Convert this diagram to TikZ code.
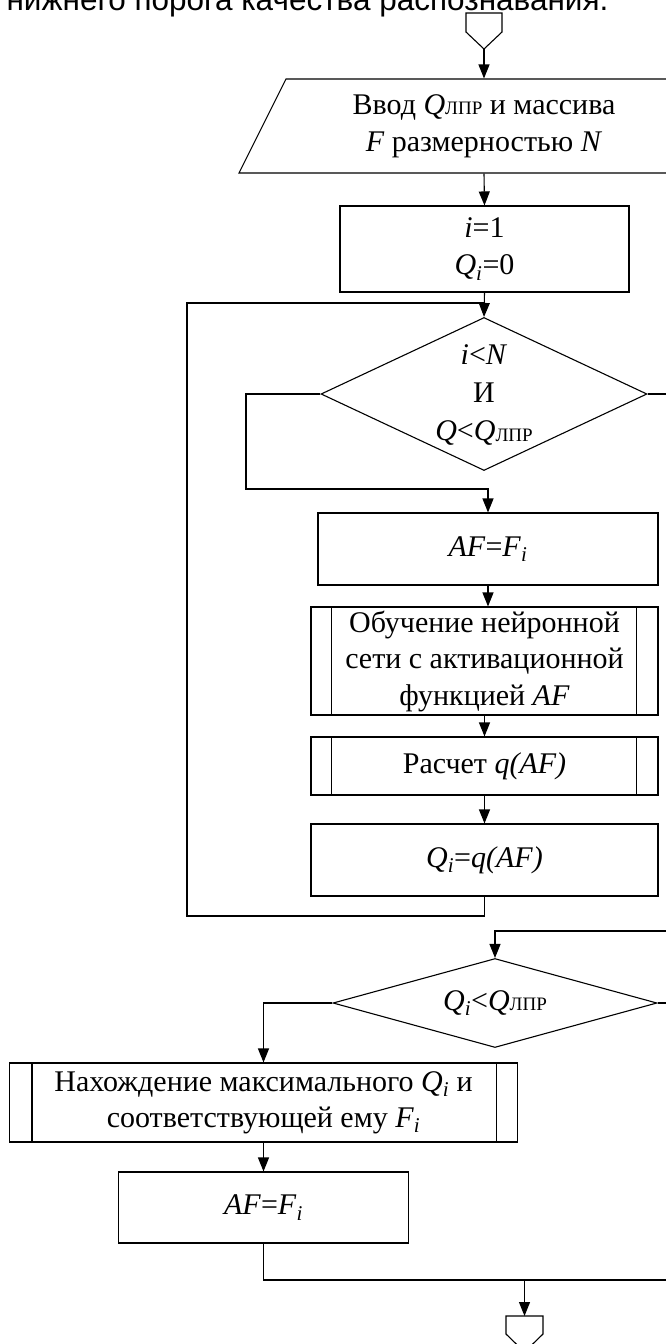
\documentclass[tikz,border=0pt]{standalone}
\usepackage{fontspec}
\setmainfont{Liberation Serif}
\newfontfamily\headfont{Liberation Sans}
\usetikzlibrary{shapes.geometric,arrows.meta}
\newcommand{\Qlpr}{\textit{Q}\raisebox{-0.5pt}{\fontsize{19}{19}\selectfont ЛПР}}
\newcommand{\sbi}{\textsubscript{\textit{i}}}
\begin{document}
\begin{tikzpicture}[x=1pt,y=-1pt,line width=1.1pt,
  box/.style={draw, rectangle, inner sep=0pt, align=center, font=\fontsize{30}{37}\selectfont},
  txt/.style={inner sep=0pt, align=center, font=\fontsize{30}{37}\selectfont},
  dia/.style={draw, diamond, inner sep=0pt},
  arr/.style={-{Triangle[length=14pt,width=11pt]}}]
\useasboundingbox (0,0) rectangle (666,1344);
\fill[white] (0,0) rectangle (666,1344);
\clip (0,0) rectangle (666,1344);

% heading text (cut off at top, as in the reference)
\node[anchor=base west, inner sep=0pt, font=\headfont\fontsize{31.5}{36}\selectfont] (head) at (6,10) {нижнего порога качества распознавания.};

% start connector
\draw (466,13) -- (502,13) -- (502,32) -- (484,49) -- (466,32) -- cycle;
\coordinate (s) at (484,49);

% input parallelogram
\draw (286,79) -- (729,79) -- (682,173) -- (239,173) -- cycle;
\node[txt, minimum width=400, minimum height=94] (inp) at (484,126) {Ввод \Qlpr{} и массива\\\textit{F} размерностью \textit{N}};

% init box
\node[box, minimum width=289, minimum height=86] (init) at (484.5,249) {\textit{i}=1\\\textit{Q}\sbi=0};

% decision 1
\node[dia, minimum width=326, minimum height=153] (d1) at (484,394) {};
\node[txt, font=\fontsize{30}{38}\selectfont] (d1t) at (484,395) {\textit{i}<\textit{N}\\И\\\textit{Q}<\Qlpr};

% loop body
\node[box, minimum width=340, minimum height=72] (af1) at (488,549) {\textit{AF}=\textit{F}\sbi};
\node[box, minimum width=347, minimum height=108, font=\fontsize{30}{36.5}\selectfont] (train) at (484.5,661) {Обучение нейронной\\сети с активационной\\функцией \textit{AF}};
\draw ([xshift=21pt]train.north west) -- ([xshift=21pt]train.south west);
\draw ([xshift=-22pt]train.north east) -- ([xshift=-22pt]train.south east);
\node[box, minimum width=347, minimum height=58] (calc) at (484.5,766) {Расчет \textit{q(AF)}};
\draw ([xshift=21pt]calc.north west) -- ([xshift=21pt]calc.south west);
\draw ([xshift=-22pt]calc.north east) -- ([xshift=-22pt]calc.south east);
\node[box, minimum width=347, minimum height=72] (assign) at (484.5,860) {\textit{Q}\sbi=\textit{q(AF)}};

% decision 2
\node[dia, minimum width=324, minimum height=89] (d2) at (495,1003) {};
\node[txt] (d2t) at (495,1003) {\textit{Q}\sbi<\Qlpr};

\node[box, minimum width=508, minimum height=79, font=\fontsize{30}{36}\selectfont] (find) at (263.5,1102.5) {Нахождение максимального \textit{Q}\sbi{} и\\соответствующей ему \textit{F}\sbi};
\draw ([xshift=23pt]find.north west) -- ([xshift=23pt]find.south west);
\draw ([xshift=-22pt]find.north east) -- ([xshift=-22pt]find.south east);
\node[box, minimum width=290, minimum height=71] (af2) at (263.5,1207.5) {\textit{AF}=\textit{F}\sbi};

% end connector
\coordinate (e) at (524.5,1316);
\draw (e) -- (543,1316) -- (543,1334) -- (524.5,1352) -- (506,1334) -- (506,1316) -- cycle;

% connectors
\coordinate (j1) at (484,303);
\coordinate (loopL) at (187,916);
\coordinate (l1) at (246,489);
\coordinate (r1) at (700,931);
\coordinate (r2) at (700,1280);
\coordinate (m) at (524.5,1280);

\draw[arr] (s) -- (inp.north);
\draw[arr] (inp.south) -- (init.north);
\draw[arr] (init.south) -- (d1.north);
\draw (assign.south) |- (loopL) |- (j1);
\draw[arr] (d1.west) -| (l1) -| (af1.north);
\draw[arr] (af1.south) -- (af1.south |- train.north);
\draw[arr] (train.south) -- (calc.north);
\draw[arr] (calc.south) -- (assign.north);
\draw[arr] (d1.east) -| (r1) -| (d2.north);
\draw[arr] (d2.west) -| (find.north);
\draw[arr] (find.south) -- (af2.north);
\draw (af2.south) |- (r2);
\draw (d2.east) -| (r2);
\draw[arr] (m) -- (e);
\end{tikzpicture}
\end{document}
